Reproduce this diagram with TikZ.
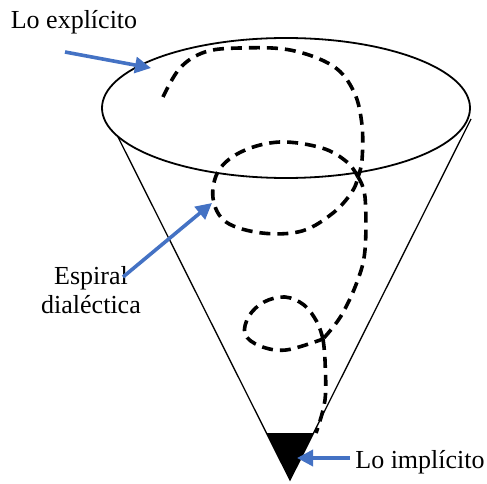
\documentclass[tikz,border=0pt]{standalone}
\usepackage{fontspec}
\setmainfont{Liberation Serif}
\usetikzlibrary{arrows.meta}
\definecolor{arrowblue}{RGB}{68,114,196}
\begin{document}
\begin{tikzpicture}[x=1pt,y=-1pt,
  lbl/.style={font=\fontsize{26}{29}\selectfont, inner sep=0pt, align=center},
  spiral/.style={line width=3.6pt, dash pattern=on 11pt off 7pt},
  pointer/.style={draw=arrowblue, line width=3.6pt, -{Triangle[length=16pt,width=16pt]}, arrowblue}]
\useasboundingbox (0,0) rectangle (487,484);
% named points
\coordinate (tip) at (290,480);
\coordinate (lt) at (118,137);
\coordinate (rt) at (471,119);
\coordinate (tl) at (266.5,433);
\coordinate (tr) at (313.5,433);
% cone
\draw[line width=1.3pt] (lt) -- (tip) -- (rt);
\fill (tl) -- (tr) -- (tip) -- cycle;
\draw[line width=1.8pt] (286,108) ellipse [x radius=184, y radius=70];
% dashed spiral
\draw[spiral] plot[smooth, tension=0.6] coordinates {(163,97) (180,68) (205,52) (240,48) (290,50) (333,66) (354,92) (362,125) (362,160) (358,177)};
\draw[spiral] plot[smooth, tension=0.6] coordinates {(358,177) (347,162) (322,148) (280,142) (243,151) (219,170) (213,198) (226,222) (262,233) (302,231) (333,213) (352,192) (358,177)};
\draw[spiral] plot[smooth, tension=0.6] coordinates {(358,177) (365,197) (365,250) (357,282) (341,316) (323,339)};
\draw[spiral] plot[smooth, tension=0.6] coordinates {(323,339) (317,322) (304,305) (285,297) (264,302) (249,316) (245,334) (260,346) (286,350) (323,339)};
\draw[spiral] plot[smooth, tension=0.6] coordinates {(323,339) (325,360) (325,400) (316,433)};
% labels
\node[lbl] (explicit) at (74,22) {Lo explícito};
\node[lbl] (spiral) at (91,290) {Espiral\\dialéctica};
\node[lbl] (implicit) at (420,462) {Lo implícito};
% pointers
\coordinate (e0) at (65,52);
\coordinate (e1) at (151,68);
\coordinate (s0) at (123,277);
\coordinate (s1) at (212,203);
\coordinate (i0) at (350,458);
\coordinate (i1) at (297,458);
\draw[pointer] (e0) -- (e1);
\draw[pointer] (s0) -- (s1);
\draw[pointer] (i0) -- (i1);
\end{tikzpicture}
\end{document}
